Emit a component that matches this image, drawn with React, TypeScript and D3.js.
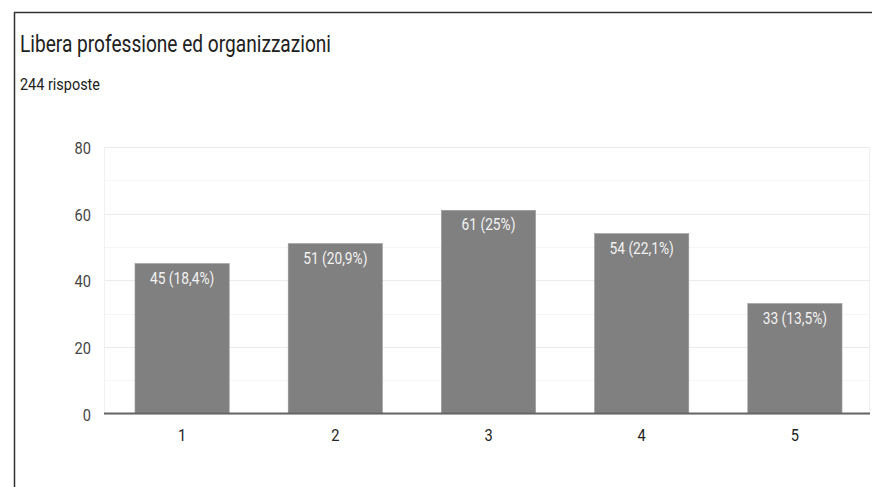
import React from "react";
import * as d3 from "d3";

const title = "Libera professione ed organizzazioni";
const subtitle = "244 risposte";
const categories = ["1", "2", "3", "4", "5"];
const counts = [45, 51, 61, 54, 33];
const percentLabels = ["18,4%", "20,9%", "25%", "22,1%", "13,5%"];
const yTicks = [0, 20, 40, 60, 80];
const yMinorTicks = [10, 30, 50, 70];

const W = 872;
const H = 487;
const plotLeft = 104;
const plotRight = 870;
const plotTop = 147;
const plotBottom = 413.5;
const SX = 0.86;

function CText(props: {
  x: number;
  y: number;
  size: number;
  fill: string;
  anchor?: "start" | "middle" | "end";
  children: React.ReactNode;
}) {
  return (
    <text
      transform={`translate(${props.x},${props.y}) scale(${SX},1)`}
      fontSize={props.size}
      fill={props.fill}
      textAnchor={props.anchor || "start"}
    >
      {props.children}
    </text>
  );
}

export default function App() {
  const x = d3
    .scaleBand<string>()
    .domain(categories)
    .range([plotLeft + 1.5, plotRight + 1.5])
    .paddingInner(0.385)
    .paddingOuter(0.1925);
  const y = d3.scaleLinear().domain([0, 80]).range([plotBottom, plotTop]);
  const font = "Roboto, 'Liberation Sans', Arial, sans-serif";

  return (
    <svg
      width={W}
      height={H}
      style={{ position: "absolute", left: 0, top: 0, background: "#fff" }}
      fontFamily={font}
    >
      <rect x={0} y={0} width={W} height={H} fill="#fff" />
      {/* card border */}
      <line x1={14.5} y1={12} x2={14.5} y2={H} stroke="#333" strokeWidth={1.5} />
      <line x1={14} y1={12.5} x2={W} y2={12.5} stroke="#333" strokeWidth={1.5} />

      <text x={20} y={51.5} fontSize={23} fill="#212121" textLength={311} lengthAdjust="spacingAndGlyphs">
        {title}
      </text>
      <text x={20} y={90} fontSize={16.5} fill="#212121" textLength={80} lengthAdjust="spacingAndGlyphs">
        {subtitle}
      </text>

      {/* minor gridlines */}
      {yMinorTicks.map((t) => (
        <line key={"m" + t} x1={plotLeft} x2={plotRight} y1={Math.round(y(t)) + 0.5} y2={Math.round(y(t)) + 0.5} stroke="#f5f5f5" />
      ))}
      {/* major gridlines */}
      {yTicks.map((t) => (
        <line key={"g" + t} x1={plotLeft} x2={plotRight} y1={Math.round(y(t)) + 0.5} y2={Math.round(y(t)) + 0.5} stroke="#ebebeb" />
      ))}
      <line x1={plotRight - 0.5} x2={plotRight - 0.5} y1={plotTop} y2={plotBottom} stroke="#f0f0f0" />
      <line x1={plotLeft + 0.5} x2={plotLeft + 0.5} y1={plotTop} y2={plotBottom} stroke="#f0f0f0" />

      {/* y labels */}
      {yTicks.map((t) => (
        <CText key={"yl" + t} x={91} y={y(t) + 7} size={17} fill="#444" anchor="end">
          {t}
        </CText>
      ))}

      {/* bars */}
      {counts.map((v, i) => {
        const bx = x(categories[i])!;
        const by = y(v);
        return (
          <g key={"b" + i}>
            <rect x={bx} y={by} width={x.bandwidth()} height={plotBottom - by} fill="#808080" stroke="#9a9a9a" strokeWidth={0.6} />
            <CText x={bx + x.bandwidth() / 2} y={by + 20} size={16} fill="#f2f2f2" anchor="middle">
              {`${v} (${percentLabels[i]})`}
            </CText>
          </g>
        );
      })}

      {/* baseline */}
      <line x1={plotLeft} x2={plotRight} y1={plotBottom} y2={plotBottom} stroke="#666" strokeWidth={2} />

      {/* x labels */}
      {categories.map((c) => (
        <CText key={"xl" + c} x={x(c)! + x.bandwidth() / 2} y={441} size={17} fill="#222" anchor="middle">
          {c}
        </CText>
      ))}
    </svg>
  );
}
